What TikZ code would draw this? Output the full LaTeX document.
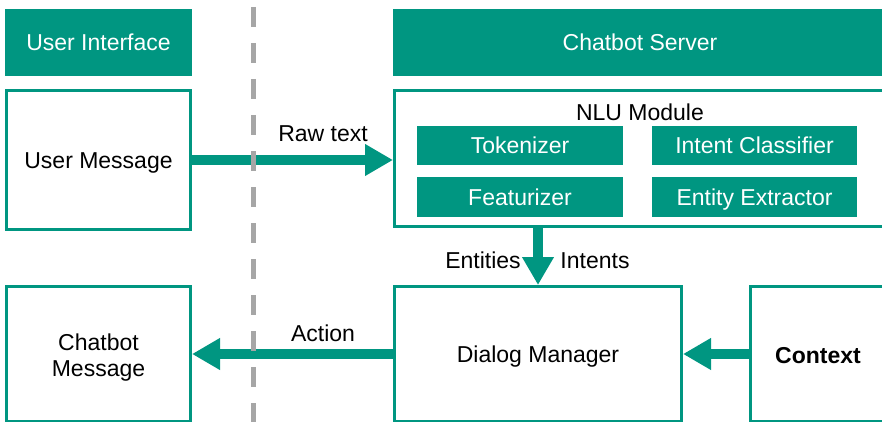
\documentclass[tikz,border=0pt]{standalone}
\usepackage{fontspec}
\setmainfont{Liberation Sans}
\usetikzlibrary{arrows.meta}
\definecolor{tealG}{RGB}{0,150,129}
\definecolor{divgray}{RGB}{166,166,166}
\begin{document}
\begin{tikzpicture}[x=1pt,y=-1pt,
  font=\fontsize{23}{26.5}\selectfont,
  capc/.style={text height=16.5pt, text depth=0pt},
  hdr/.style={fill=tealG, text=white, inner sep=0pt, outer sep=0pt, anchor=north west, capc},
  comp/.style={fill=tealG, text=white, inner sep=0pt, outer sep=0pt, anchor=north west, capc},
  box/.style={draw=tealG, line width=3pt, fill=white, inner sep=0pt, outer sep=1.5pt, anchor=north west},
  flow/.style={draw=tealG, line width=10pt, -{Triangle[length=28pt,width=30pt]}},
  divider/.style={draw=divgray, line width=5pt, dash pattern=on 20pt off 16pt},
  lbl/.style={inner sep=0pt, capc}]
\useasboundingbox (0,0) rectangle (882,422);
\clip (0,0) rectangle (882,422);

% headers
\node[hdr, minimum width=187pt, minimum height=67pt] (uihdr) at (5,9) {User Interface};
\node[hdr, minimum width=494pt, minimum height=67pt] (srvhdr) at (393,9) {Chatbot Server};

% top row
\node[box, capc, minimum width=184pt, minimum height=139pt] (usermsg) at (5,89) {User Message};
\node[box, minimum width=499pt, minimum height=136pt] (nlu) at (393,89) {};
\node[lbl] (nlulabel) at (640,112) {NLU Module};
\node[comp, minimum width=206pt, minimum height=39pt] (tok) at (417,126) {Tokenizer};
\node[comp, minimum width=206pt, minimum height=40pt] (feat) at (417,177) {Featurizer};
\node[comp, minimum width=205pt, minimum height=39pt] (intent) at (652,126) {Intent Classifier};
\node[comp, minimum width=205pt, minimum height=40pt] (entity) at (652,177) {Entity Extractor};

% bottom row
\node[box, minimum width=184pt, minimum height=135pt] (chatmsg) at (5,285) {};
\node[inner sep=0pt, align=center] (chatlabel) at (98.5,357.5) {Chatbot\\Message};
\node[box, capc, minimum width=287pt, minimum height=135pt] (dm) at (393,285) {Dialog Manager};
\node[box, minimum width=143pt, minimum height=135pt] (ctx) at (749,285) {};
\node[lbl, font=\fontsize{23}{26.5}\selectfont\bfseries] (ctxlabel) at (818,355) {Context};

% connectors
\draw[flow] (usermsg.east) -- (usermsg.east -| nlu.west);
\draw[flow] (nlu.south -| dm.north) -- (dm.north);
\draw[flow] (dm.west) -- (dm.west -| chatmsg.east);
\draw[flow] (ctx.west) -- (ctx.west -| dm.east);

% connector labels
\node[lbl] (rawlbl) at (323,133) {Raw text};
\node[lbl] (actlbl) at (323,333) {Action};
\node[lbl] (entlbl) at (483,260) {Entities};
\node[lbl] (intlbl) at (595,260) {Intents};

% divider
\coordinate (divtop) at (253,7);
\coordinate (divbot) at (253,430);
\draw[divider] (divtop) -- (divbot);
\end{tikzpicture}
\end{document}
